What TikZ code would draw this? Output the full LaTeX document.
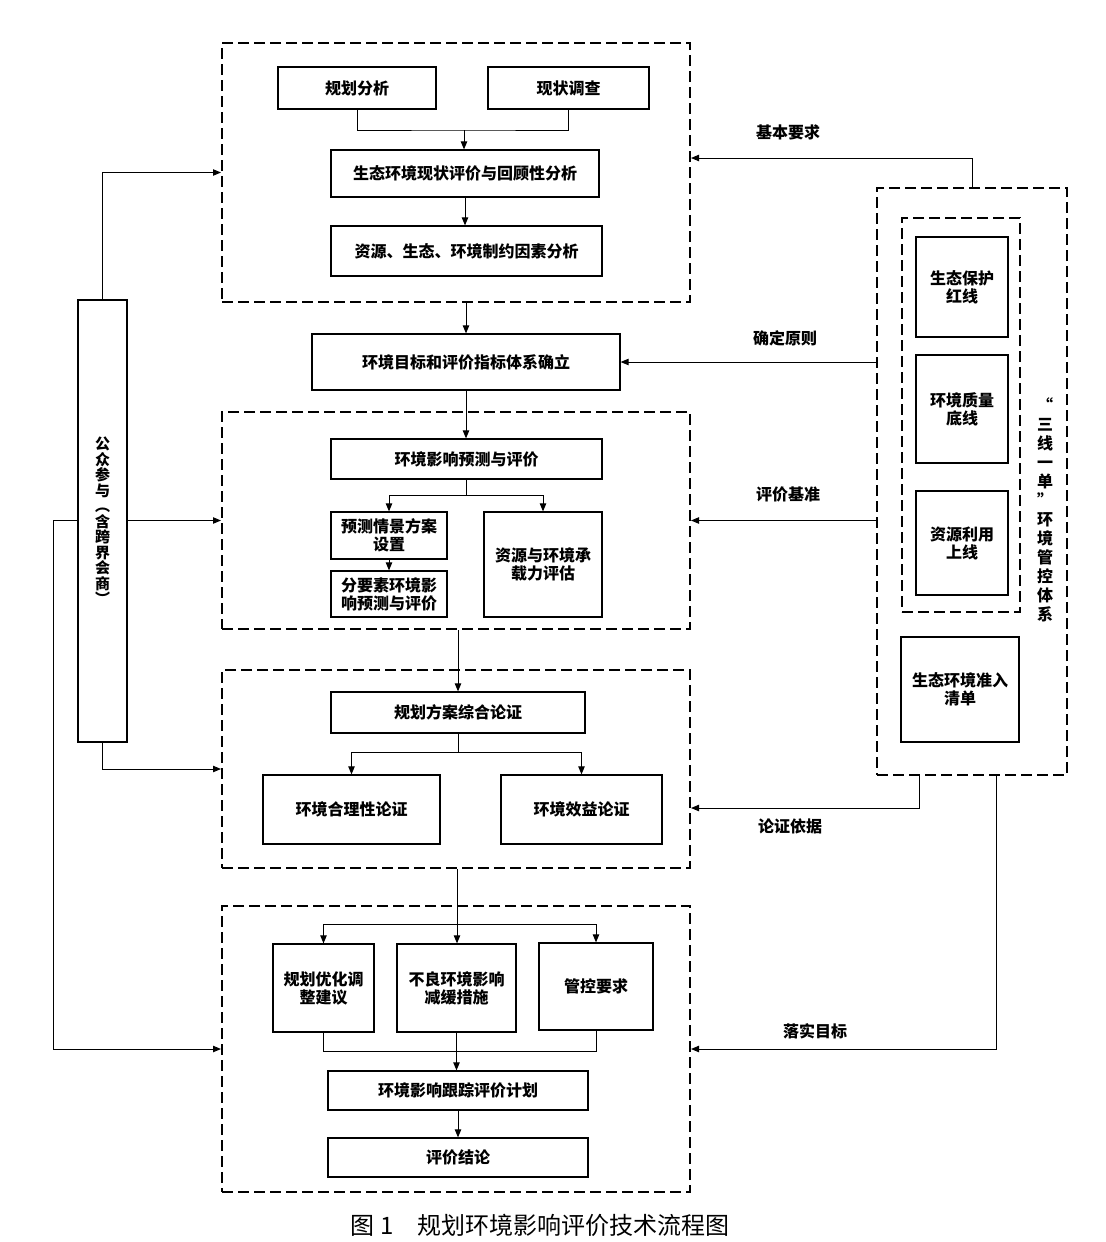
\documentclass[tikz,border=0pt]{standalone}
\usepackage{fontspec}
\setmainfont{Noto Sans CJK SC}
\usetikzlibrary{arrows.meta,positioning,calc}

\begin{document}
\begin{tikzpicture}[x=0.5pt,y=-0.5pt,font=\fontsize{8}{9}\selectfont\bfseries,
  box/.style={draw,line width=.6pt,align=center,inner sep=1pt},
  grp/.style={draw,line width=1pt,dash pattern=on 5.5pt off 2.5pt,inner sep=0pt},
  arr/.style={-{Triangle[length=4pt,width=3.2pt]},line width=.5pt},
  lnk/.style={line width=.5pt},
  lab/.style={font=\fontsize{8}{9}\selectfont\bfseries}]
  \useasboundingbox (0,0) rectangle (1105,1242);

  % dashed groups
  \node[grp,minimum width=234pt,minimum height=129.5pt] (grpA) at (456,172.5) {};
  \node[grp,minimum width=234pt,minimum height=108.5pt] (grpB) at (456,520.5) {};
  \node[grp,minimum width=234pt,minimum height=99pt] (grpC) at (456,769) {};
  \node[grp,minimum width=234pt,minimum height=143pt] (grpD) at (456,1049) {};
  \node[grp,minimum width=95pt,minimum height=293.5pt] (sxyd) at (972,481.5) {};
  \node[grp,minimum width=59pt,minimum height=197pt] (sxin) at (961,415) {};

  % group A
  \node[box,minimum width=79pt,minimum height=21pt] (ghfx) at (357,88) {规划分析};
  \node[box,minimum width=80.5pt,minimum height=21pt] (xzdc) at (568.5,88) {现状调查};
  \node[box,minimum width=134pt,minimum height=23.5pt] (xzpj) at (465,173.5) {生态环境现状评价与回顾性分析};
  \node[box,minimum width=135.5pt,minimum height=25pt] (zyys) at (466.5,251) {资源、生态、环境制约因素分析};
  \node[box,minimum width=154pt,minimum height=28pt] (hjmb) at (466,362) {环境目标和评价指标体系确立};

  % group B
  \node[box,minimum width=135.5pt,minimum height=20pt] (yxyc) at (466.5,459) {环境影响预测与评价};
  \node[box,minimum width=58pt,minimum height=23.5pt] (qjsz) at (389,535.5) {预测情景方案\\设置};
  \node[box,minimum width=58pt,minimum height=23pt] (fyys) at (389,594) {分要素环境影\\响预测与评价};
  \node[box,minimum width=59pt,minimum height=52.5pt] (czlp) at (543,564.5) {资源与环境承\\载力评估};

  % group C
  \node[box,minimum width=127pt,minimum height=20.5pt] (zhlz) at (458,712.5) {规划方案综合论证};
  \node[box,minimum width=88.5pt,minimum height=34.5pt] (hllz) at (351.5,809.5) {环境合理性论证};
  \node[box,minimum width=80.5pt,minimum height=34.5pt] (xylz) at (581.5,809.5) {环境效益论证};

  % group D
  \node[box,minimum width=50.5pt,minimum height=44pt] (yhjy) at (323.5,988) {规划优化调\\整建议};
  \node[box,minimum width=59.5pt,minimum height=44pt] (jhcs) at (456.5,988) {不良环境影响\\减缓措施};
  \node[box,minimum width=57pt,minimum height=43.5pt] (gkyq) at (596,986.5) {管控要求};
  \node[box,minimum width=130pt,minimum height=19.5pt] (gzjh) at (458,1090.5) {环境影响跟踪评价计划};
  \node[box,minimum width=130pt,minimum height=19.5pt] (pjjl) at (458,1157.5) {评价结论};

  % left and right
  \node[box,minimum width=24.5pt,minimum height=221pt,font=\fontsize{7.5}{7.75}\selectfont\bfseries] (gzcy) at (102.5,521) {公\\众\\参\\与\\︵\\含\\跨\\界\\会\\商\\︶};
  \node[box,minimum width=46pt,minimum height=50pt] (sthx) at (962,287) {生态保护\\红线};
  \node[box,minimum width=46pt,minimum height=54pt] (zldx) at (962,409) {环境质量\\底线};
  \node[box,minimum width=46pt,minimum height=52pt] (zysx) at (962,543) {资源利用\\上线};
  \node[box,minimum width=59pt,minimum height=52.5pt] (zrqd) at (960,689.5) {生态环境准入\\清单};
  \node[align=center,font=\fontsize{8}{9.5}\selectfont\bfseries] (sxtx) at (1045,510) {“\\三\\线\\一\\单\\”\\环\\境\\管\\控\\体\\系};

  % flow
  \coordinate (j1) at (464,130);
  \draw[lnk] (ghfx.south) |- (j1) -| (xzdc.south);
  \draw[arr] (j1) -- (j1 |- xzpj.north);
  \draw[arr] (xzpj.south) -- (xzpj.south |- zyys.north);
  \draw[arr] (hjmb.north |- grpA.south) -- (hjmb.north);
  \draw[arr] (hjmb.south) -- (hjmb.south |- yxyc.north);
  \draw[lnk] (yxyc.south) -- ++(0,16) coordinate (s1);
  \draw[arr] (s1) -| (qjsz.north);
  \draw[arr] (s1) -| (czlp.north);
  \draw[arr] (qjsz.south) -- (fyys.north);
  \draw[arr] (zhlz.north |- grpB.south) -- (zhlz.north);
  \draw[lnk] (zhlz.south) -- ++(0,19) coordinate (s2);
  \draw[arr] (s2) -| (hllz.north);
  \draw[arr] (s2) -| (xylz.north);
  \coordinate (s3) at (457,924);
  \draw[lnk] (s3 |- grpC.south) -- (s3);
  \draw[arr] (s3) -| (yhjy.north);
  \draw[arr] (s3) -- (s3 |- jhcs.north);
  \draw[arr] (s3) -| (gkyq.north);
  \coordinate (m1) at (457,1051);
  \draw[lnk] (yhjy.south) |- (m1) -| (gkyq.south);
  \draw[arr] (jhcs.south) -- (jhcs.south |- gzjh.north);
  \draw[arr] (gzjh.south) -- (pjjl.north);

  % public participation
  \draw[arr] (gzcy.north) |- (grpA.west);
  \draw[arr] (gzcy.east |- grpB.west) -- (grpB.west);
  \draw[arr] (gzcy.west |- grpB.west) -- ++(-23.5,0) |- (grpD.west);
  \draw[arr] (gzcy.south) |- (grpC.west);

  % control system
  \draw[arr] (sxyd.north) |- ([yshift=7.25pt]grpA.east);
  \draw[arr] (sxyd.west |- hjmb.east) -- (hjmb.east);
  \draw[arr] (sxyd.west |- grpB.east) -- (grpB.east);
  \draw[arr] ([xshift=-26.5pt]sxyd.south) |- ([yshift=-19.5pt]grpC.east);
  \draw[arr] ([xshift=12pt]sxyd.south) |- (grpD.east);
  \node[lab] (jbyq) at (788,132) {基本要求};
  \node[lab] (qdyz) at (785,338) {确定原则};
  \node[lab] (pjjz) at (788,494) {评价基准};
  \node[lab] (lzyj) at (790,826) {论证依据};
  \node[lab] (lsmb) at (815,1031) {落实目标};

  \node[font=\fontsize{12}{14}\selectfont] (tuti) at (540,1225) {图 1\quad 规划环境影响评价技术流程图};
\end{tikzpicture}
\end{document}
